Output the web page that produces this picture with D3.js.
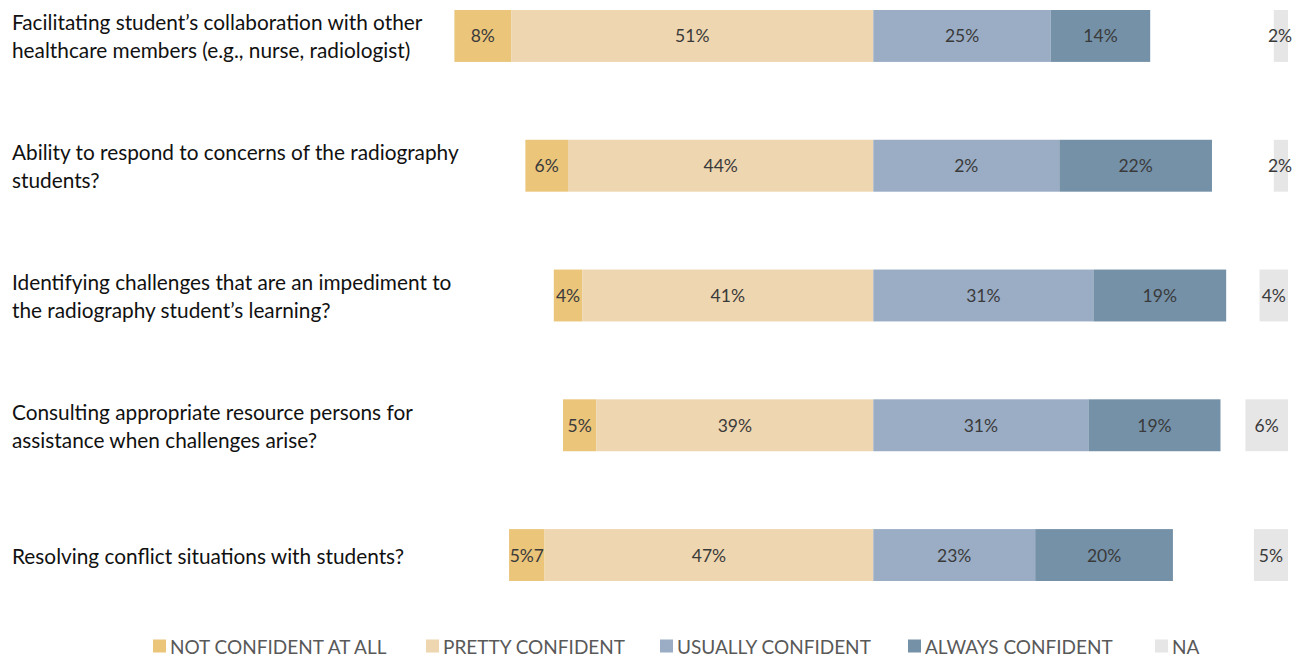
<!DOCTYPE html>
<html>
<head>
<meta charset="utf-8">
<script src="https://cdn.jsdelivr.net/npm/d3@7"></script>
<style>
  html, body { margin: 0; padding: 0; background: #ffffff; }
  svg { display: block; }
</style>
</head>
<body>
<svg id="chart" width="1299" height="656"></svg>
<script>
// ---- data ----
const categories = [
  "Facilitating student’s collaboration with other|healthcare members (e.g., nurse, radiologist)",
  "Ability to respond to concerns of the radiography|students?",
  "Identifying challenges that are an impediment to|the radiography student’s learning?",
  "Consulting appropriate resource persons for|assistance when challenges arise?",
  "Resolving conflict situations with students?"
];
const seriesNames = ["NOT CONFIDENT AT ALL", "PRETTY CONFIDENT", "USUALLY CONFIDENT", "ALWAYS CONFIDENT", "NA"];
const notConfident    = [8, 6, 4, 4.7, 5];
const prettyConfident = [51, 43, 41, 39, 46.3];
const usuallyConfident= [25, 26.2, 31, 30.3, 22.8];
const alwaysConfident = [14, 21.5, 18.7, 18.6, 19.4];
const notApplicable   = [2, 2, 4, 6, 4.8];
// printed labels (as shown in the source figure)
const notConfidentLabels     = ["8%", "6%", "4%", "5%", "5%7"];
const prettyConfidentLabels  = ["51%", "44%", "41%", "39%", "47%"];
const usuallyConfidentLabels = ["25%", "2%", "31%", "31%", "23%"];
const alwaysConfidentLabels  = ["14%", "22%", "19%", "19%", "20%"];
const naLabels               = ["2%", "2%", "4%", "6%", "5%"];
const colors = ["#EAC57A", "#EED6B0", "#9AADC5", "#7491A8", "#E6E6E6"];

// ---- layout ----
const svg = d3.select("#chart");
const x = d3.scaleLinear().domain([-60, 60]).range([873.3 - 426, 873.3 + 426]);
const xNA = d3.scaleLinear().domain([0, 10]).range([1288, 1288 - 71]);
const y = d3.scaleBand().domain(d3.range(categories.length)).range([10, 581]).paddingInner(0.6).paddingOuter(0);

const rows = categories.map((c, i) => ({
  i,
  segs: [
    { s: 0, x0: -(notConfident[i] + prettyConfident[i]), x1: -prettyConfident[i], label: notConfidentLabels[i] },
    { s: 1, x0: -prettyConfident[i], x1: 0, label: prettyConfidentLabels[i] },
    { s: 2, x0: 0, x1: usuallyConfident[i], label: usuallyConfidentLabels[i] },
    { s: 3, x0: usuallyConfident[i], x1: usuallyConfident[i] + alwaysConfident[i], label: alwaysConfidentLabels[i] }
  ],
  na: notApplicable[i],
  naLabel: naLabels[i]
}));

const labelFont = "Lato, 'Open Sans', sans-serif";

const g = svg.selectAll("g.row").data(rows).join("g").attr("class", "row")
  .attr("transform", d => `translate(0,${y(d.i)})`);

const bw = y.bandwidth();

g.selectAll("rect.seg").data(d => d.segs).join("rect").attr("class", "seg")
  .attr("x", d => x(d.x0)).attr("width", d => x(d.x1) - x(d.x0))
  .attr("y", 0).attr("height", bw)
  .attr("fill", d => colors[d.s]);

g.selectAll("text.seglab").data(d => d.segs).join("text").attr("class", "seglab")
  .attr("x", d => (x(d.x0) + x(d.x1)) / 2).attr("y", bw / 2)
  .attr("text-anchor", "middle").attr("dominant-baseline", "central")
  .attr("font-family", labelFont).attr("font-size", 17.5).attr("fill", "#3a3a3a")
  .text(d => d.label);

g.append("rect")
  .attr("x", d => xNA(d.na)).attr("width", d => xNA(0) - xNA(d.na))
  .attr("y", 0).attr("height", bw).attr("fill", colors[4]);

g.append("text")
  .attr("x", d => Math.min((xNA(d.na) + xNA(0)) / 2, 1280)).attr("y", bw / 2)
  .attr("text-anchor", "middle").attr("dominant-baseline", "central")
  .attr("font-family", labelFont).attr("font-size", 17.5).attr("fill", "#3a3a3a")
  .text(d => d.naLabel);

// category labels
g.each(function(d) {
  const lines = categories[d.i].split("|");
  const lh = 28;
  const t = d3.select(this).append("text")
    .attr("font-family", labelFont).attr("font-size", 20.8).attr("fill", "#111111");
  lines.forEach((ln, k) => {
    t.append("tspan").attr("x", 12)
      .attr("y", bw / 2 + (k - (lines.length - 1) / 2) * lh)
      .attr("dominant-baseline", "central")
      .text(ln);
  });
});

// legend
const legendX = [153, 426, 660, 908, 1155];
const lg = svg.selectAll("g.leg").data(seriesNames).join("g").attr("class", "leg")
  .attr("transform", (d, i) => `translate(${legendX[i]},646)`);
lg.append("rect").attr("x", 0).attr("y", -6.5).attr("width", 13).attr("height", 13)
  .attr("fill", (d, i) => colors[i]);
lg.append("text").attr("x", 17).attr("y", 0).attr("dominant-baseline", "central")
  .attr("font-family", labelFont).attr("font-size", 19).attr("fill", "#595959")
  .text(d => d);
</script>
</body>
</html>
